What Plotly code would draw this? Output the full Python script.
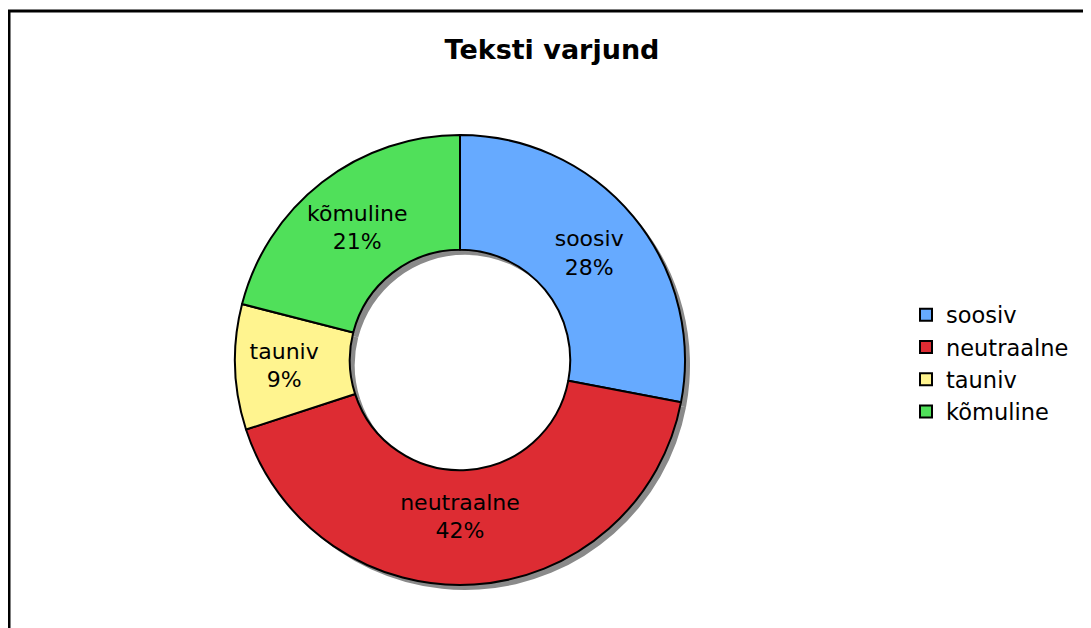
import plotly.graph_objects as go

labels = ["soosiv", "neutraalne", "tauniv", "kõmuline"]
values = [28, 42, 9, 21]
colors = ["#66AAFF", "#DD2C33", "#FFF48F", "#50E05A"]

# page body has an 8px margin; figure is sized to fill the rest of the window
OFF = 8
W, H = 1091 - OFF, 628 - OFF
cx, cy, r = 460 - OFF, 360 - OFF, 225
hole = 0.49
sh = 5  # shadow offset px

def dom(dx=0, dy=0):
    return dict(x=[(cx - r + dx) / W, (cx + r + dx) / W],
                y=[1 - (cy + r + dy) / H, 1 - (cy - r + dy) / H])

fig = go.Figure()
fig.add_trace(go.Pie(
    labels=labels, values=values, sort=False, direction="clockwise",
    hole=hole, domain=dom(sh, sh), showlegend=False, textinfo="none",
    marker=dict(colors=["#8A8A8A"] * 4, line=dict(width=0)),
    hoverinfo="skip"))
fig.add_trace(go.Pie(
    labels=labels, values=values, sort=False, direction="clockwise",
    hole=hole, domain=dom(),
    marker=dict(colors=colors, line=dict(color="black", width=2)),
    texttemplate="%{label}<br>%{percent:.0%}", textposition="inside",
    insidetextorientation="horizontal",
    textfont=dict(family="DejaVu Sans", size=22, color="black")))

fig.update_layout(
    width=W, height=H,
    margin=dict(l=0, r=0, t=0, b=0),
    paper_bgcolor="white", plot_bgcolor="white",
    font=dict(family="DejaVu Sans", color="black"),
    title=dict(text="<b>Teksti varjund</b>", x=(552 - OFF) / W, xanchor="center",
               y=1 - (50 - OFF) / H, yanchor="middle",
               font=dict(family="DejaVu Sans", size=27, color="black")),
    legend=dict(x=(906 - OFF) / W, xanchor="left", y=1 - (363 - OFF) / H, yanchor="middle",
                font=dict(family="DejaVu Sans", size=22.5, color="black"),
                bgcolor="rgba(0,0,0,0)", itemwidth=30),
    uniformtext=dict(minsize=22, mode="show"),
    shapes=[
        dict(type="line", xref="paper", yref="paper", x0=0, x1=1.01,
             y0=1 - (11 - OFF) / H, y1=1 - (11 - OFF) / H, line=dict(color="black", width=3)),
        dict(type="line", xref="paper", yref="paper", x0=1 / W, x1=1 / W,
             y0=1 - (10 - OFF) / H, y1=-0.01, line=dict(color="black", width=3)),
    ],
)

fig.write_html("out.html")
